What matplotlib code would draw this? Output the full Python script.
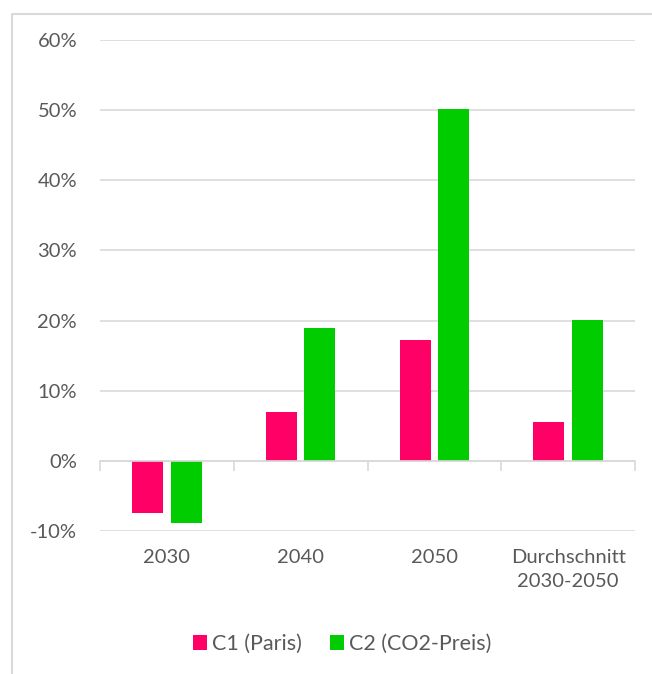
import matplotlib
matplotlib.use("Agg")
import matplotlib.pyplot as plt
import matplotlib.transforms as mtransforms
from matplotlib.lines import Line2D
import numpy as np

categories = ["2030", "2040", "2050", "Durchschnitt\n2030-2050"]
c1_paris = [-7.4, 7.0, 17.2, 5.5]
c2_co2 = [-8.8, 18.9, 50.1, 20.1]
series_names = ["C1 (Paris)", "C2 (CO2-Preis)"]
y_ticks = [-10, 0, 10, 20, 30, 40, 50, 60]
y_tick_labels = [f"{v}%" for v in y_ticks]

plt.rcParams['font.family'] = ['Lato', 'DejaVu Sans']
TXT = "#595959"
GRID = "#d9d9d9"
PINK = "#ff0066"
GREEN = "#00cc00"
FS = 14.5

W, H = 652, 674
fig = plt.figure(figsize=(W / 100, H / 100), dpi=100)
ax = fig.add_axes([100 / W, 1 - 531 / H, 535 / W, 491 / H])

# outer chart border (left and top edges visible)
bx, by = 11.5 / W, 1 - 13.5 / H
fig.add_artist(Line2D([bx, bx, 1.01], [-0.01, by, by], transform=fig.transFigure,
                      color=GRID, linewidth=1.5, zorder=0))

x = np.arange(len(categories))
bw = 0.232
off = 0.144
ax.bar(x - off, c1_paris, bw, color=PINK, label=series_names[0], zorder=3)
ax.bar(x + off, c2_co2, bw, color=GREEN, label=series_names[1], zorder=3)

ax.set_xlim(-0.5, len(categories) - 0.5)
ax.set_ylim(-10, 60)
ax.set_yticks(y_ticks)
ax.set_yticklabels(y_tick_labels, color=TXT, fontsize=FS)
ax.tick_params(axis='y', length=0, pad=16.5)
ax.yaxis.grid(True, color=GRID, linewidth=1.2, zorder=0)
ax.set_axisbelow(True)

for s in ['top', 'right', 'left']:
    ax.spines[s].set_visible(False)
ax.spines['bottom'].set_position(('data', 0))
ax.spines['bottom'].set_color(GRID)
ax.spines['bottom'].set_linewidth(1.2)
ax.spines['bottom'].set_zorder(4)
ax.set_xticks(np.arange(-0.5, len(categories), 1.0))
ax.set_xticklabels([])
ax.tick_params(axis='x', length=7, color=GRID, width=1.2, direction='out')

trans = mtransforms.blended_transform_factory(ax.transData, ax.transAxes)
for xi, lab in zip(x, categories):
    ax.text(xi, -0.036, lab, transform=trans, ha='center', va='top',
            color=TXT, fontsize=FS, linespacing=1.5)

leg = fig.legend(loc='center', bbox_to_anchor=(342 / W, 1 - 644 / H),
                 ncol=2, frameon=False, fontsize=15.5, handlelength=0.65,
                 handleheight=0.65, handletextpad=0.25, columnspacing=1.3)
for t in leg.get_texts():
    t.set_color(TXT)

fig.savefig("out.png", dpi=100)
